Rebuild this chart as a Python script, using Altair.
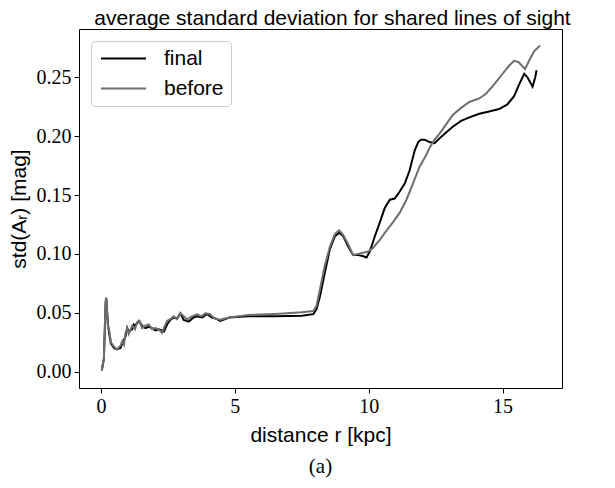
import altair as alt
import pandas as pd

# ---- data ----
final_r = [0.03, 0.11, 0.175, 0.20, 0.26, 0.31, 0.37, 0.49, 0.61, 0.73,
           0.80, 0.86, 0.92, 0.98, 1.04, 1.17, 1.22, 1.27, 1.42, 1.54,
           1.66, 1.79, 1.91, 2.03, 2.16, 2.28, 2.35, 2.47, 2.59, 2.72,
           2.84, 2.97, 3.09, 3.28, 3.46, 3.59, 3.78, 3.96, 4.14, 4.30,
           4.45, 4.8, 5.5, 6.5, 7.5, 7.93, 8.05, 8.18, 8.36, 8.55,
           8.74, 8.90, 9.05, 9.24, 9.42, 9.61, 9.80, 9.92, 10.04, 10.23,
           10.42, 10.60, 10.79, 10.97, 11.16, 11.35, 11.53, 11.72, 11.85, 11.95,
           12.09, 12.27, 12.46, 12.64, 12.89, 13.14, 13.45, 13.76, 14.13, 14.50,
           14.87, 15.18, 15.43, 15.62, 15.81, 15.93, 16.12, 16.22, 16.27]
final_v = [0.001, 0.011, 0.058, 0.062, 0.040, 0.032, 0.024, 0.020, 0.019, 0.020,
           0.024, 0.027, 0.030, 0.037, 0.034, 0.036, 0.040, 0.039, 0.043, 0.039,
           0.037, 0.038, 0.037, 0.035, 0.036, 0.035, 0.034, 0.040, 0.044, 0.046,
           0.045, 0.0495, 0.044, 0.0425, 0.046, 0.047, 0.046, 0.049, 0.046, 0.045,
           0.043, 0.046, 0.047, 0.047, 0.0475, 0.0488, 0.053, 0.064, 0.084, 0.104,
           0.115, 0.118, 0.115, 0.106, 0.099, 0.099, 0.098, 0.097, 0.102, 0.115,
           0.127, 0.139, 0.146, 0.147, 0.153, 0.160, 0.171, 0.188, 0.195, 0.197,
           0.197, 0.195, 0.194, 0.198, 0.203, 0.208, 0.213, 0.216, 0.219, 0.221,
           0.223, 0.227, 0.234, 0.244, 0.253, 0.250, 0.242, 0.250, 0.256]

before_r = [0.03, 0.11, 0.175, 0.20, 0.26, 0.31, 0.37, 0.49, 0.61, 0.73,
            0.80, 0.86, 0.92, 0.98, 1.04, 1.17, 1.27, 1.35, 1.44, 1.54,
            1.66, 1.79, 1.91, 2.03, 2.16, 2.28, 2.35, 2.47, 2.59, 2.72,
            2.84, 2.97, 3.09, 3.22, 3.40, 3.59, 3.75, 3.90, 4.08, 4.24,
            4.45, 4.8, 5.5, 6.5, 7.5, 7.93, 8.05, 8.18, 8.36, 8.55,
            8.74, 8.90, 9.05, 9.24, 9.42, 9.61, 9.80, 9.98, 10.16, 10.42,
            10.67, 10.91, 11.16, 11.41, 11.66, 11.90, 12.15, 12.27, 12.46, 12.64,
            12.89, 13.14, 13.45, 13.76, 14.13, 14.38, 14.69, 15.00, 15.25, 15.43,
            15.59, 15.84, 15.99, 16.18, 16.40]
before_v = [0.001, 0.011, 0.061, 0.063, 0.039, 0.035, 0.025, 0.021, 0.019, 0.022,
            0.026, 0.023, 0.033, 0.037, 0.032, 0.039, 0.036, 0.042, 0.043, 0.037,
            0.039, 0.040, 0.036, 0.037, 0.036, 0.033, 0.037, 0.043, 0.0445, 0.047,
            0.0445, 0.0495, 0.047, 0.0445, 0.047, 0.0487, 0.047, 0.0495, 0.0487, 0.045,
            0.044, 0.046, 0.048, 0.049, 0.0505, 0.0515, 0.0558, 0.070, 0.090, 0.106,
            0.117, 0.120, 0.116, 0.108, 0.099, 0.100, 0.101, 0.102, 0.105, 0.112,
            0.120, 0.127, 0.135, 0.146, 0.160, 0.174, 0.184, 0.190, 0.197, 0.202,
            0.210, 0.218, 0.224, 0.229, 0.232, 0.236, 0.244, 0.253, 0.260, 0.264,
            0.263, 0.257, 0.264, 0.272, 0.277]

series_names = ["final", "before"]
series_colors = ["#000000", "#6e6e6e"]
x_ticks = [0, 5, 10, 15]
y_ticks = [0.00, 0.05, 0.10, 0.15, 0.20, 0.25]

df = pd.concat([
    pd.DataFrame({"r": final_r, "v": final_v, "series": "final", "order": range(len(final_r))}),
    pd.DataFrame({"r": before_r, "v": before_v, "series": "before", "order": range(len(before_r))}),
])

W, H = 483, 359

lines = alt.Chart(df).mark_line(strokeWidth=2, clip=True).encode(
    x=alt.X("r:Q",
            scale=alt.Scale(domain=[-0.82, 17.22], nice=False, zero=False),
            axis=alt.Axis(values=x_ticks, title="distance r [kpc]", format="d")),
    y=alt.Y("v:Q",
            scale=alt.Scale(domain=[-0.0139, 0.291], nice=False, zero=False),
            axis=alt.Axis(values=y_ticks, title="std(Aᵣ) [mag]", format=".2f")),
    color=alt.Color("series:N",
                    scale=alt.Scale(domain=series_names, range=series_colors),
                    legend=alt.Legend(title=None, orient="none", legendX=12, legendY=12,
                                      symbolType="M-3,0H3", symbolSize=225,
                                      symbolOffset=15,
                                      symbolStrokeWidth=2, labelFontSize=21,
                                      labelFont="Liberation Sans", labelOffset=30,
                                      rowPadding=8,
                                      strokeColor="#cccccc", fillColor="white",
                                      cornerRadius=4, padding=7)),
    detail="series:N",
    order="order:Q",
)

caption = alt.Chart(pd.DataFrame({"t": ["(a)"]})).mark_text(
    font="Liberation Serif", fontSize=21, color="black", align="center", baseline="middle"
).encode(x=alt.value(W / 2), y=alt.value(H + 79), text="t:N")

chart = alt.layer(lines, caption).properties(
    width=W, height=H,
    title=alt.TitleParams("average standard deviation for shared lines of sight",
                          font="Liberation Sans", fontSize=21, fontWeight="normal",
                          anchor="middle", offset=0, dx=12, color="black"),
    autosize=alt.AutoSizeParams(type="none"),
    padding={"left": 71, "top": 21, "right": 45, "bottom": 92},
).configure_view(stroke="black", strokeWidth=1).configure_axis(
    domain=False, grid=False, tickColor="black", tickSize=5, tickWidth=1,
    labelFont="Liberation Serif", labelFontSize=20, labelColor="black", labelPadding=3,
    titleFont="Liberation Sans", titleFontSize=21, titleFontWeight="normal", titleColor="black",
).configure_axisX(titlePadding=8).configure_axisY(titlePadding=7)

chart.save("out.html", embed_options={"renderer": "svg", "actions": False})
